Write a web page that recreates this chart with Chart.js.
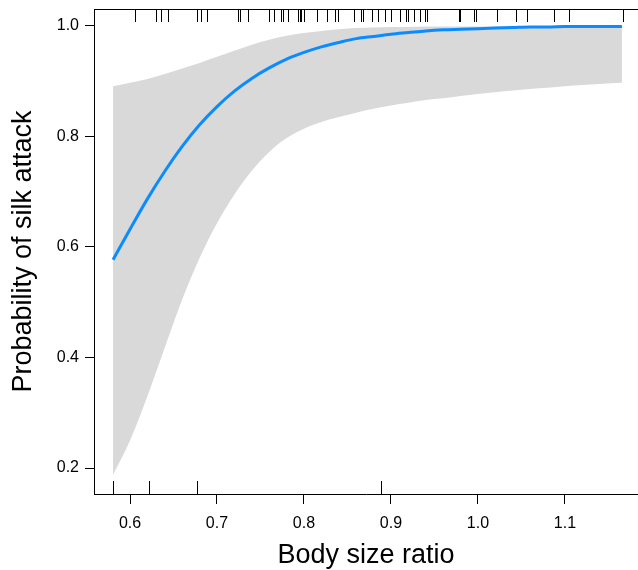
<!DOCTYPE html>
<html>
<head>
<meta charset="utf-8">
<script src="https://cdn.jsdelivr.net/npm/chart.js@4.4.0/dist/chart.umd.min.js"></script>
<style>
  html, body { margin: 0; padding: 0; background: #fff; }
  #wrap { width: 638px; height: 570px; }
</style>
</head>
<body>
<div id="wrap"><canvas id="silkChart" width="638" height="570"></canvas></div>
<script>
// body size ratio grid for the fitted curve
const ratio = [0.5805, 0.60, 0.62, 0.64, 0.66, 0.68, 0.70, 0.72, 0.74, 0.76,
               0.78, 0.80, 0.82, 0.84, 0.86, 0.88, 0.90, 0.92, 0.94, 0.96,
               0.98, 1.00, 1.02, 1.04, 1.06, 1.08, 1.10, 1.12, 1.14, 1.1655];
// fitted probability
const fit = [0.577, 0.632, 0.687, 0.737, 0.782, 0.821, 0.854, 0.882, 0.905, 0.924,
             0.940, 0.952, 0.962, 0.970, 0.977, 0.981, 0.985, 0.988, 0.991, 0.993,
             0.994, 0.995, 0.996, 0.997, 0.998, 0.998, 0.999, 0.999, 0.999, 0.999];
// confidence band
const upper = [0.891, 0.897, 0.904, 0.913, 0.923, 0.933, 0.944, 0.955, 0.966, 0.975,
               0.982, 0.987, 0.991, 0.994, 0.996, 0.997, 0.998, 0.998, 0.999, 0.999,
               0.999, 0.999, 0.999, 0.999, 0.999, 0.999, 0.999, 0.999, 0.999, 0.999];
const lower = [0.188, 0.250, 0.330, 0.418, 0.505, 0.580, 0.643, 0.695, 0.738, 0.772,
               0.797, 0.814, 0.826, 0.835, 0.843, 0.850, 0.856, 0.861, 0.866, 0.869,
               0.873, 0.877, 0.880, 0.883, 0.886, 0.888, 0.891, 0.893, 0.895, 0.897];
// observed ratios: attacked (top rug) and not attacked (bottom rug)
const rugTop = [0.606, 0.630, 0.636, 0.644, 0.677, 0.682, 0.689, 0.724, 0.726, 0.736,
                0.760, 0.765, 0.774, 0.776, 0.782, 0.793, 0.795, 0.796, 0.800, 0.815,
                0.827, 0.836, 0.839, 0.857, 0.866, 0.868, 0.878, 0.885, 0.893, 0.900,
                0.910, 0.917, 0.920, 0.926, 0.933, 0.939, 0.941, 0.978, 0.979, 0.995,
                0.998, 1.022, 1.044, 1.056, 1.087, 1.105, 1.167];
const rugBottom = [0.581, 0.622, 0.677, 0.8885];
const xTicks = [0.6, 0.7, 0.8, 0.9, 1.0, 1.1];
const yTicks = [0.2, 0.4, 0.6, 0.8, 1.0];

const pts = vals => ratio.map((r, i) => ({ x: r, y: vals[i] }));
const fontFamily = "'Liberation Sans', Arial, sans-serif";

// frame plus rug ticks along top and bottom edges
const rugPlugin = {
    id: 'rugFrame',
    afterDatasetsDraw(chart) {
        const { ctx, chartArea: a, scales: { x } } = chart;
        ctx.save();
        ctx.strokeStyle = '#000';
        ctx.lineWidth = 1;
        ctx.beginPath();
        rugTop.forEach(v => {
            const px = Math.round(x.getPixelForValue(v)) + 0.5;
            ctx.moveTo(px, a.top);
            ctx.lineTo(px, a.top + 13);
        });
        rugBottom.forEach(v => {
            const px = Math.round(x.getPixelForValue(v)) + 0.5;
            ctx.moveTo(px, a.bottom - 13);
            ctx.lineTo(px, a.bottom);
        });
        ctx.stroke();
        ctx.beginPath();
        ctx.moveTo(a.left + 0.5, a.bottom);
        ctx.lineTo(a.left + 0.5, a.top + 0.5);
        ctx.lineTo(a.right, a.top + 0.5);
        ctx.stroke();
        ctx.restore();
    }
};

const ctx = document.getElementById('silkChart').getContext('2d');
const silkChart = new Chart(ctx, {
    type: 'line',
    data: {
        datasets: [{
            label: 'fit',
            data: pts(fit),
            borderColor: '#0a8cff',
            borderWidth: 3,
            pointRadius: 0,
            cubicInterpolationMode: 'monotone',
            fill: false
        }, {
            label: 'lower',
            data: pts(lower),
            borderWidth: 0,
            pointRadius: 0,
            cubicInterpolationMode: 'monotone',
            fill: false
        }, {
            label: 'upper',
            data: pts(upper),
            borderWidth: 0,
            pointRadius: 0,
            backgroundColor: '#d9d9d9',
            cubicInterpolationMode: 'monotone',
            fill: 1
        }]
    },
    options: {
        responsive: false,
        animation: false,
        layout: { padding: { top: 9, right: 0, bottom: 0, left: 0 } },
        plugins: {
            legend: { display: false },
            tooltip: { enabled: false },
            filler: { drawTime: 'beforeDatasetsDraw' }
        },
        scales: {
            x: {
                type: 'linear',
                min: 0.5586,
                max: 1.184,
                afterFit: s => { s.height = 76; s.paddingLeft = 0; s.paddingRight = 0; },
                afterBuildTicks: s => { s.ticks = xTicks.map(v => ({ value: v })); },
                grid: { drawOnChartArea: false, tickLength: 10, color: '#000', tickWidth: 1 },
                border: { display: true, color: '#000', width: 1 },
                ticks: {
                    padding: 10,
                    color: '#000',
                    font: { family: fontFamily, size: 16 },
                    maxRotation: 0,
                    callback: v => v.toFixed(1)
                },
                title: {
                    display: true,
                    text: 'Body size ratio',
                    color: '#000',
                    font: { family: fontFamily, size: 27, lineHeight: 1.1 },
                    padding: { top: 0, bottom: 0 }
                }
            },
            y: {
                min: 0.153,
                max: 1.0306,
                afterFit: s => { s.width = 94; s.paddingTop = 0; s.paddingBottom = 0; },
                afterBuildTicks: s => { s.ticks = yTicks.map(v => ({ value: v })); },
                grid: { drawOnChartArea: false, tickLength: 9, color: '#000', tickWidth: 1 },
                border: { display: true, color: '#000', width: 1 },
                ticks: {
                    padding: 6,
                    color: '#000',
                    font: { family: fontFamily, size: 16 },
                    callback: v => v.toFixed(1)
                },
                title: {
                    display: true,
                    text: 'Probability of silk attack',
                    color: '#000',
                    font: { family: fontFamily, size: 27, lineHeight: 1.1 },
                    padding: { top: 9, bottom: 0 }
                }
            }
        }
    },
    plugins: [rugPlugin]
});
</script>
</body>
</html>
